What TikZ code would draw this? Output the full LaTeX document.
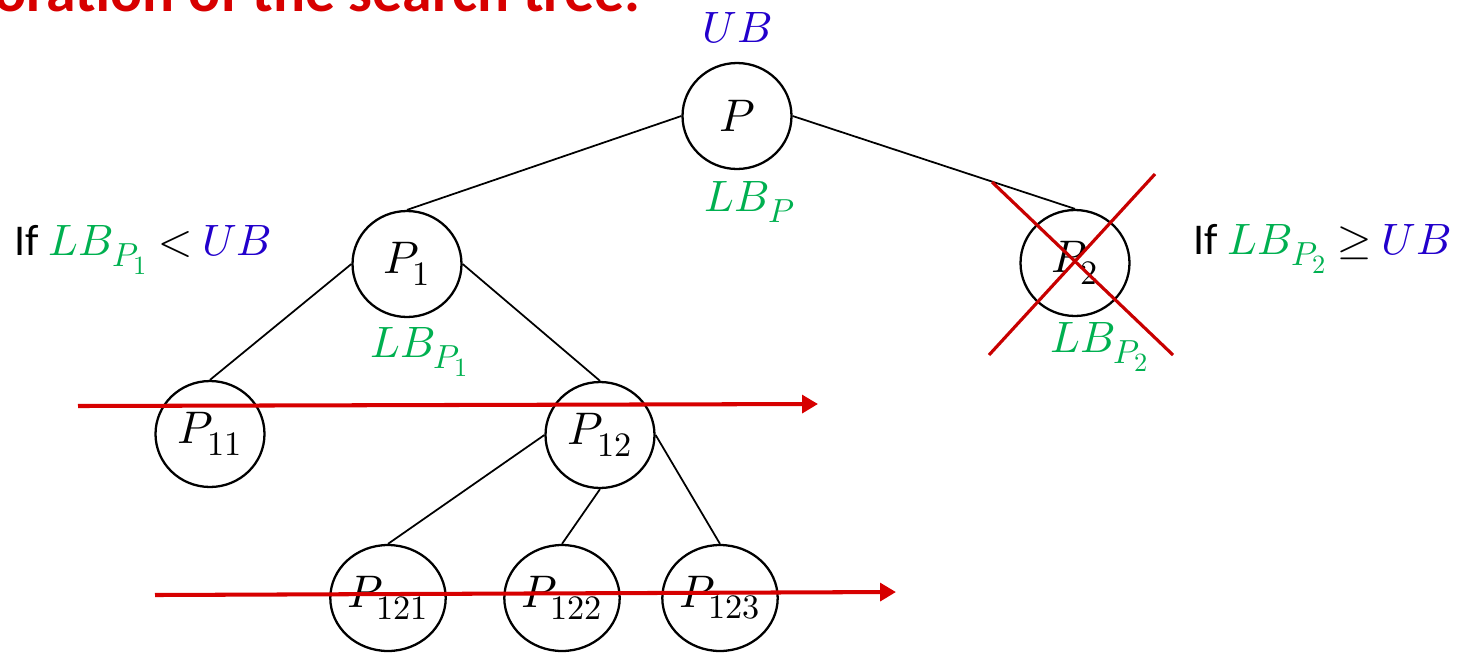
\documentclass[tikz,border=0pt]{standalone}
\usepackage{fontspec}
\usepackage{unicode-math}
\setmainfont{Carlito}
\setmathfont{Latin Modern Math}
\DeclareMathSizes{26}{26}{19.5}{15.5}
\DeclareMathSizes{25}{25}{19}{15}
\usetikzlibrary{arrows.meta,shapes.geometric}
\definecolor{lbgreen}{RGB}{0,176,80}
\definecolor{ubblue}{RGB}{34,0,204}
\definecolor{cutred}{RGB}{200,0,0}
\definecolor{titlered}{RGB}{215,0,0}
\tikzset{
  sub/.style={draw=black,line width=1.3pt,ellipse,inner sep=0pt,
    minimum width=2.18cm,minimum height=2.12cm,
    font=\fontsize{26}{31}\selectfont},
  edge/.style={draw=black,line width=1pt},
  lbl/.style={inner sep=0pt,font=\fontsize{25}{30}\selectfont},
  cond/.style={inner sep=0pt,font=\fontsize{25}{30}\selectfont},
  sweep/.style={draw=titlered,line width=2.3pt,-{Triangle[length=9pt,width=10pt]}},
  cut/.style={draw=cutred,line width=1.8pt}
}
\begin{document}
\begin{tikzpicture}[x=0.02cm,y=-0.02cm]
\useasboundingbox (0,0) rectangle (1459,653);
\begin{scope}
\clip (0,0) rectangle (1459,653);
\node[anchor=base east,inner sep=0pt,text=titlered,
  font=\fontsize{34}{40}\selectfont\bfseries] (title) at (641,11)
  {oration of the search tree.};
\end{scope}

% search tree
\node[sub] (P)    at (737,116) {$P$};
\node[sub] (P1)   at (407,264) {$P_1$};
\node[sub] (P2)   at (1075,263) {$P_2$};
\node[sub] (P11)  at (210,434) {$P_{11}$};
\node[sub] (P12)  at (600,435) {$P_{12}$};
\node[sub] (P121) at (388,598) {$P_{121}$};
\node[sub] (P122) at (562,598) {$P_{122}$};
\node[sub] (P123) at (720,598) {$P_{123}$};

\draw[edge] (P.west) -- (P1.north);
\draw[edge] (P.east) -- (P2.north);
\draw[edge] (P1.west) -- (P11.north);
\draw[edge] (P1.east) -- (P12.north);
\draw[edge] (P12.west) -- (P121.north);
\draw[edge] (P12.south) -- (P122.north);
\draw[edge] (P12.east) -- (P123.north);

% bounds
\node[lbl,text=ubblue] (ub) at (737,28) {$UB$};
\node[lbl,text=lbgreen] (lbp) at (750,202) {$LB_P$};
\node[lbl,text=lbgreen] (lbp1) at (420,352) {$LB_{P_1}$};
\node[lbl,text=lbgreen] (lbp2) at (1100,347) {$LB_{P_2}$};

\node[cond,anchor=west] (c1) at (14,250)
  {If \textcolor{lbgreen}{$LB_{P_1}$} $<$ \textcolor{ubblue}{$UB$}};
\node[cond,anchor=east] (c2) at (1451,249)
  {If \textcolor{lbgreen}{$LB_{P_2}$} $\geq$ \textcolor{ubblue}{$UB$}};

% pruned subproblem
\coordinate (x1a) at (992,182);
\coordinate (x1b) at (1173,355);
\coordinate (x2a) at (1155,174);
\coordinate (x2b) at (989,355);
\draw[cut] (x1a) -- (x1b);
\draw[cut] (x2a) -- (x2b);

% level sweeps
\coordinate (s1a) at (78,406);
\coordinate (s1b) at (818,404);
\coordinate (s2a) at (155,595);
\coordinate (s2b) at (896,592);
\draw[sweep] (s1a) -- (s1b);
\draw[sweep] (s2a) -- (s2b);
\end{tikzpicture}
\end{document}
